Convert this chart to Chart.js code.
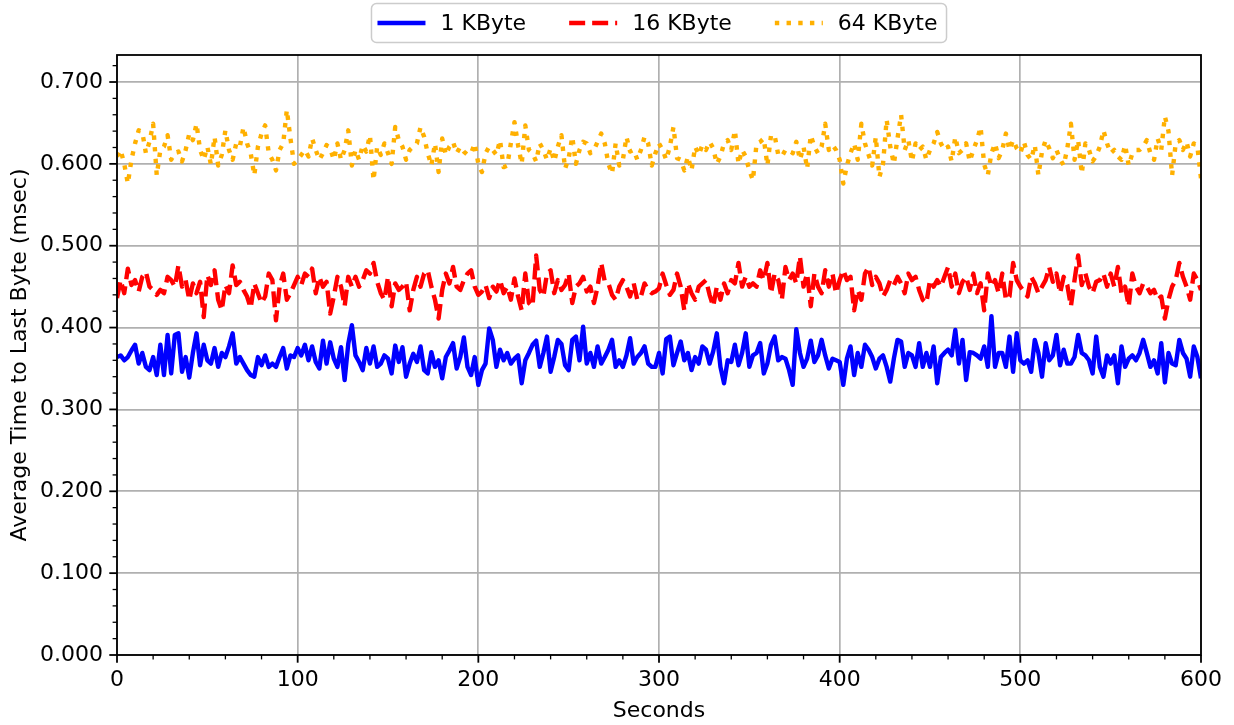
<!DOCTYPE html>
<html>
<head>
<meta charset="utf-8">
<title>Average Time to Last Byte</title>
<script src="https://cdn.jsdelivr.net/npm/chart.js@4.4.1/dist/chart.umd.min.js"></script>
<style>
  html, body { margin: 0; padding: 0; background: #fff; }
  #wrap { width: 1234px; height: 725px; }
</style>
</head>
<body>
<div id="wrap"><canvas id="chart" width="1234" height="725"></canvas></div>
<script>
// one sample every 2 s, 0..600 s
const sampleStep = 2;
const seriesLabels = ['1 KByte', '16 KByte', '64 KByte'];

// msec
const oneKB = [
  0.364,0.366,0.360,0.364,0.372,0.379,0.356,0.369,0.352,0.348, 0.364,0.342,0.379,0.342,0.391,0.344,0.391,0.393,0.346,0.364,
  0.339,0.369,0.393,0.354,0.379,0.360,0.356,0.375,0.352,0.369, 0.364,0.377,0.393,0.356,0.364,0.356,0.348,0.342,0.340,0.364,
  0.354,0.366,0.352,0.356,0.352,0.364,0.375,0.350,0.366,0.364, 0.375,
  0.366,0.379,0.360,0.377,0.358,0.350,0.384,0.356,0.382,0.362, 0.352,0.376,0.336,0.380,0.403,0.366,0.358,0.348,0.375,0.356,
  0.377,0.352,0.356,0.366,0.362,0.344,0.378,0.358,0.376,0.340, 0.356,0.368,0.358,0.377,0.348,0.344,0.370,0.352,0.360,0.338,
  0.364,0.372,0.381,0.350,0.364,0.388,0.352,0.342,0.364,0.330,
  0.348,0.356,0.399,0.385,0.352,0.373,0.360,0.369,0.356,0.362, 0.366,0.332,0.360,0.369,0.379,0.384,0.352,0.369,0.389,0.346,
  0.364,0.385,0.380,0.354,0.348,0.385,0.389,0.360,0.401,0.356, 0.369,0.352,0.377,0.356,0.364,0.373,0.385,0.352,0.360,0.352,
  0.366,0.387,0.356,0.364,0.369,0.377,0.356,0.352,0.352,0.369,
  0.344,0.386,0.389,0.354,0.369,0.383,0.360,0.369,0.348,0.364, 0.356,0.377,0.373,0.356,0.371,0.393,0.352,0.332,0.360,0.358,
  0.379,0.354,0.369,0.393,0.352,0.366,0.369,0.381,0.344,0.356, 0.379,0.389,0.360,0.364,0.362,0.348,0.330,0.398,0.369,0.352,
  0.362,0.384,0.358,0.366,0.385,0.366,0.350,0.362,0.360,0.358,
  0.330,0.362,0.377,0.342,0.369,0.352,0.379,0.373,0.364,0.350, 0.362,0.366,0.352,0.334,0.362,0.385,0.383,0.352,0.369,0.366,
  0.352,0.381,0.352,0.369,0.352,0.377,0.332,0.364,0.369,0.373, 0.366,0.397,0.356,0.385,0.336,0.370,0.369,0.366,0.362,0.377,
  0.352,0.414,0.352,0.369,0.369,0.352,0.389,0.346,0.393,0.360,
  0.356,0.360,0.346,0.385,0.369,0.340,0.381,0.360,0.366,0.391, 0.354,0.373,0.356,0.356,0.364,0.391,0.369,0.366,0.360,0.344,
  0.389,0.352,0.340,0.366,0.356,0.366,0.332,0.377,0.352,0.362, 0.366,0.360,0.369,0.385,0.369,0.352,0.360,0.344,0.381,0.333,
  0.369,0.356,0.354,0.385,0.369,0.362,0.340,0.377,0.364,0.338
];

const sixteenKB = [
  0.436,0.458,0.442,0.472,0.452,0.458,0.444,0.462,0.468,0.450, 0.446,0.440,0.446,0.442,0.462,0.458,0.450,0.476,0.450,0.458,
  0.434,0.454,0.442,0.456,0.413,0.464,0.452,0.470,0.434,0.421, 0.452,0.442,0.476,0.452,0.456,0.446,0.438,0.424,0.454,0.442,
  0.430,0.438,0.466,0.458,0.409,0.450,0.466,0.434,0.442,0.452, 0.462,
  0.452,0.466,0.462,0.472,0.442,0.462,0.450,0.456,0.417,0.438, 0.462,0.450,0.426,0.462,0.450,0.462,0.450,0.458,0.470,0.466,
  0.479,0.456,0.442,0.434,0.462,0.426,0.454,0.446,0.450,0.456, 0.421,0.446,0.462,0.450,0.466,0.470,0.450,0.434,0.411,0.446,
  0.466,0.454,0.474,0.450,0.446,0.458,0.466,0.470,0.450,0.440,
  0.444,0.452,0.436,0.450,0.444,0.458,0.442,0.450,0.434,0.460, 0.438,0.421,0.466,0.430,0.426,0.488,0.446,0.438,0.466,0.470,
  0.442,0.458,0.446,0.452,0.466,0.430,0.450,0.454,0.462,0.444, 0.450,0.430,0.450,0.479,0.456,0.454,0.440,0.434,0.450,0.458,
  0.450,0.438,0.454,0.434,0.438,0.454,0.446,0.442,0.444,0.448,
  0.466,0.452,0.440,0.446,0.466,0.450,0.421,0.454,0.442,0.434, 0.450,0.454,0.458,0.440,0.426,0.450,0.434,0.454,0.442,0.458,
  0.454,0.479,0.450,0.462,0.450,0.454,0.450,0.470,0.458,0.479, 0.442,0.466,0.458,0.434,0.474,0.458,0.466,0.454,0.487,0.450,
  0.466,0.426,0.466,0.450,0.442,0.470,0.450,0.466,0.442,0.458,
  0.470,0.458,0.462,0.421,0.446,0.434,0.466,0.474,0.452,0.462, 0.454,0.438,0.446,0.458,0.452,0.462,0.454,0.442,0.466,0.458,
  0.462,0.446,0.434,0.430,0.458,0.450,0.458,0.450,0.462,0.474, 0.450,0.466,0.442,0.456,0.462,0.446,0.466,0.442,0.454,0.421,
  0.466,0.450,0.458,0.442,0.466,0.434,0.438,0.479,0.458,0.450,
  0.444,0.438,0.462,0.454,0.442,0.450,0.458,0.474,0.456,0.466, 0.442,0.462,0.452,0.426,0.458,0.488,0.452,0.466,0.450,0.442,
  0.456,0.458,0.466,0.450,0.466,0.450,0.474,0.442,0.450,0.426, 0.466,0.450,0.442,0.454,0.450,0.442,0.446,0.434,0.438,0.411,
  0.434,0.450,0.458,0.479,0.462,0.450,0.434,0.466,0.458,0.446
];

const sixtyFourKB = [
  0.609,0.617,0.600,0.576,0.605,0.625,0.641,0.639,0.613,0.627, 0.649,0.586,0.617,0.621,0.635,0.605,0.613,0.615,0.603,0.617,
  0.637,0.629,0.649,0.617,0.605,0.621,0.599,0.633,0.598,0.611, 0.641,0.617,0.605,0.625,0.621,0.645,0.625,0.613,0.586,0.621,
  0.637,0.647,0.613,0.605,0.592,0.617,0.625,0.666,0.631,0.600, 0.605,
  0.611,0.617,0.609,0.631,0.617,0.605,0.613,0.623,0.619,0.605, 0.625,0.605,0.617,0.641,0.598,0.617,0.605,0.623,0.615,0.635,
  0.580,0.621,0.611,0.625,0.613,0.600,0.645,0.629,0.621,0.605, 0.617,0.621,0.625,0.645,0.633,0.613,0.598,0.625,0.590,0.631,
  0.611,0.621,0.627,0.613,0.621,0.615,0.611,0.613,0.625,0.600,
  0.590,0.613,0.621,0.617,0.611,0.629,0.596,0.598,0.625,0.651, 0.623,0.600,0.647,0.617,0.613,0.603,0.625,0.617,0.605,0.619,
  0.603,0.621,0.635,0.594,0.607,0.633,0.600,0.617,0.627,0.625, 0.613,0.617,0.627,0.637,0.625,0.600,0.588,0.625,0.598,0.605,
  0.633,0.615,0.617,0.605,0.617,0.633,0.625,0.598,0.613,0.625,
  0.617,0.605,0.621,0.645,0.607,0.605,0.592,0.609,0.592,0.621, 0.611,0.623,0.617,0.627,0.619,0.600,0.609,0.625,0.629,0.617,
  0.641,0.600,0.617,0.609,0.592,0.580,0.625,0.627,0.631,0.598, 0.635,0.635,0.611,0.609,0.617,0.617,0.613,0.627,0.605,0.621,
  0.594,0.635,0.621,0.613,0.621,0.649,0.617,0.623,0.617,0.605,
  0.576,0.598,0.613,0.625,0.605,0.649,0.625,0.611,0.598,0.633, 0.584,0.600,0.654,0.621,0.600,0.631,0.660,0.617,0.629,0.603,
  0.625,0.617,0.621,0.605,0.617,0.625,0.639,0.625,0.617,0.621, 0.603,0.633,0.613,0.617,0.625,0.603,0.617,0.629,0.645,0.599,
  0.586,0.613,0.625,0.607,0.617,0.637,0.617,0.629,0.619,0.613,
  0.627,0.611,0.605,0.623,0.586,0.615,0.629,0.619,0.607,0.617, 0.606,0.598,0.619,0.649,0.605,0.629,0.588,0.625,0.617,0.603,
  0.610,0.621,0.641,0.625,0.613,0.617,0.609,0.605,0.623,0.598, 0.613,0.617,0.617,0.621,0.629,0.613,0.605,0.631,0.617,0.658,
  0.640,0.586,0.625,0.629,0.617,0.627,0.609,0.625,0.621,0.582
];

const xTickStep = 100, xMinorStep = 20;
const yTickStep = 0.1, yMinorStep = 0.02;

Chart.defaults.font.family = '"DejaVu Sans", sans-serif';
Chart.defaults.font.size = 22;
Chart.defaults.color = '#000';

const toPoints = arr => arr.map((v, i) => ({x: i * sampleStep, y: v}));

// ticks (major + minor) and the black frame, drawn over the lines
const axisFrame = {
  id: 'axisFrame',
  afterDatasetsDraw(chart){
    const {ctx, chartArea: a, scales: {x, y}} = chart;
    ctx.save();
    ctx.strokeStyle = '#000';
    ctx.lineCap = 'butt';
    for(let v = x.min; v <= x.max + 1e-9; v += xMinorStep){
      const px = x.getPixelForValue(v);
      const major = Math.abs(v % xTickStep) < 1e-9;
      ctx.lineWidth = major ? 1.8 : 1.3;
      ctx.beginPath(); ctx.moveTo(px, a.bottom); ctx.lineTo(px, a.bottom + (major ? 7.7 : 4.4)); ctx.stroke();
    }
    const n = Math.floor(y.max / yMinorStep + 1e-6);
    for(let k = 0; k <= n; k++){
      const py = y.getPixelForValue(k * yMinorStep);
      const major = k % Math.round(yTickStep / yMinorStep) === 0;
      ctx.lineWidth = major ? 1.8 : 1.3;
      ctx.beginPath(); ctx.moveTo(a.left, py); ctx.lineTo(a.left - (major ? 7.7 : 4.4), py); ctx.stroke();
    }
    ctx.lineWidth = 1.8;
    ctx.strokeRect(a.left, a.top, a.right - a.left, a.bottom - a.top);
    ctx.restore();
  }
};

// framed legend above the plot, centred on it
const topLegend = {
  id: 'topLegend',
  afterDraw(chart){
    const {ctx, chartArea: a} = chart;
    const sets = chart.data.datasets;
    ctx.save();
    ctx.font = '22px "DejaVu Sans"';
    const sample = 48, gapText = 15, gapItem = 43, padL = 6, padR = 9;
    const widths = sets.map(d => ctx.measureText(d.label).width);
    const total = padL + padR + widths.reduce((s, w) => s + sample + gapText + w, 0) + gapItem * (sets.length - 1);
    const left = (a.left + a.right) / 2 - total / 2;
    const top = 3.5, h = 39;
    ctx.beginPath();
    ctx.roundRect(left, top, total, h, 5);
    ctx.fillStyle = '#fff'; ctx.fill();
    ctx.strokeStyle = '#cccccc'; ctx.lineWidth = 1.5; ctx.stroke();
    let x = left + padL;
    const cy = top + h / 2;
    sets.forEach((d, i) => {
      ctx.strokeStyle = d.borderColor;
      ctx.lineWidth = d.borderWidth;
      ctx.setLineDash(d.borderDash || []);
      ctx.beginPath(); ctx.moveTo(x, cy); ctx.lineTo(x + sample, cy); ctx.stroke();
      ctx.setLineDash([]);
      ctx.fillStyle = '#000';
      ctx.textBaseline = 'middle';
      ctx.textAlign = 'left';
      ctx.fillText(d.label, x + sample + gapText, cy + 1);
      x += sample + gapText + widths[i] + gapItem;
    });
    ctx.restore();
  }
};

new Chart(document.getElementById('chart'), {
  type: 'line',
  data: {
    datasets: [
      {label: seriesLabels[0], data: toPoints(oneKB), borderColor: '#0000ff', borderWidth: 4.4},
      {label: seriesLabels[1], data: toPoints(sixteenKB), borderColor: '#ff0000', borderWidth: 4.4, borderDash: [16, 7]},
      {label: seriesLabels[2], data: toPoints(sixtyFourKB), borderColor: '#ffb000', borderWidth: 4.4, borderDash: [4.4, 7.3]}
    ]
  },
  options: {
    responsive: false,
    animation: false,
    devicePixelRatio: 1,
    layout: {padding: {top: 55, right: 31, left: 0, bottom: 0}},
    elements: {point: {radius: 0}, line: {tension: 0, borderCapStyle: 'butt', borderJoinStyle: 'round'}},
    plugins: {legend: {display: false}, tooltip: {enabled: false}},
    scales: {
      x: {
        type: 'linear', min: 0, max: 600,
        ticks: {stepSize: xTickStep, autoSkip: false, maxRotation: 0, padding: 12, color: '#000'},
        grid: {color: '#b0b0b0', lineWidth: 1.7, drawTicks: false},
        border: {display: false},
        title: {display: true, text: 'Seconds', color: '#000', padding: {top: 0, bottom: 1}},
        afterFit: s => { s.height = 70; }
      },
      y: {
        type: 'linear', min: 0, max: 0.733,
        ticks: {stepSize: yTickStep, includeBounds: false, autoSkip: false, padding: 14, color: '#000',
                callback: v => Number(v).toFixed(3)},
        grid: {color: '#b0b0b0', lineWidth: 1.7, drawTicks: false},
        border: {display: false},
        title: {display: true, text: 'Average Time to Last Byte (msec)', color: '#000', padding: {top: 7, bottom: 0}},
        afterFit: s => { s.width = 117; }
      }
    }
  },
  plugins: [axisFrame, topLegend]
});
</script>
</body>
</html>
